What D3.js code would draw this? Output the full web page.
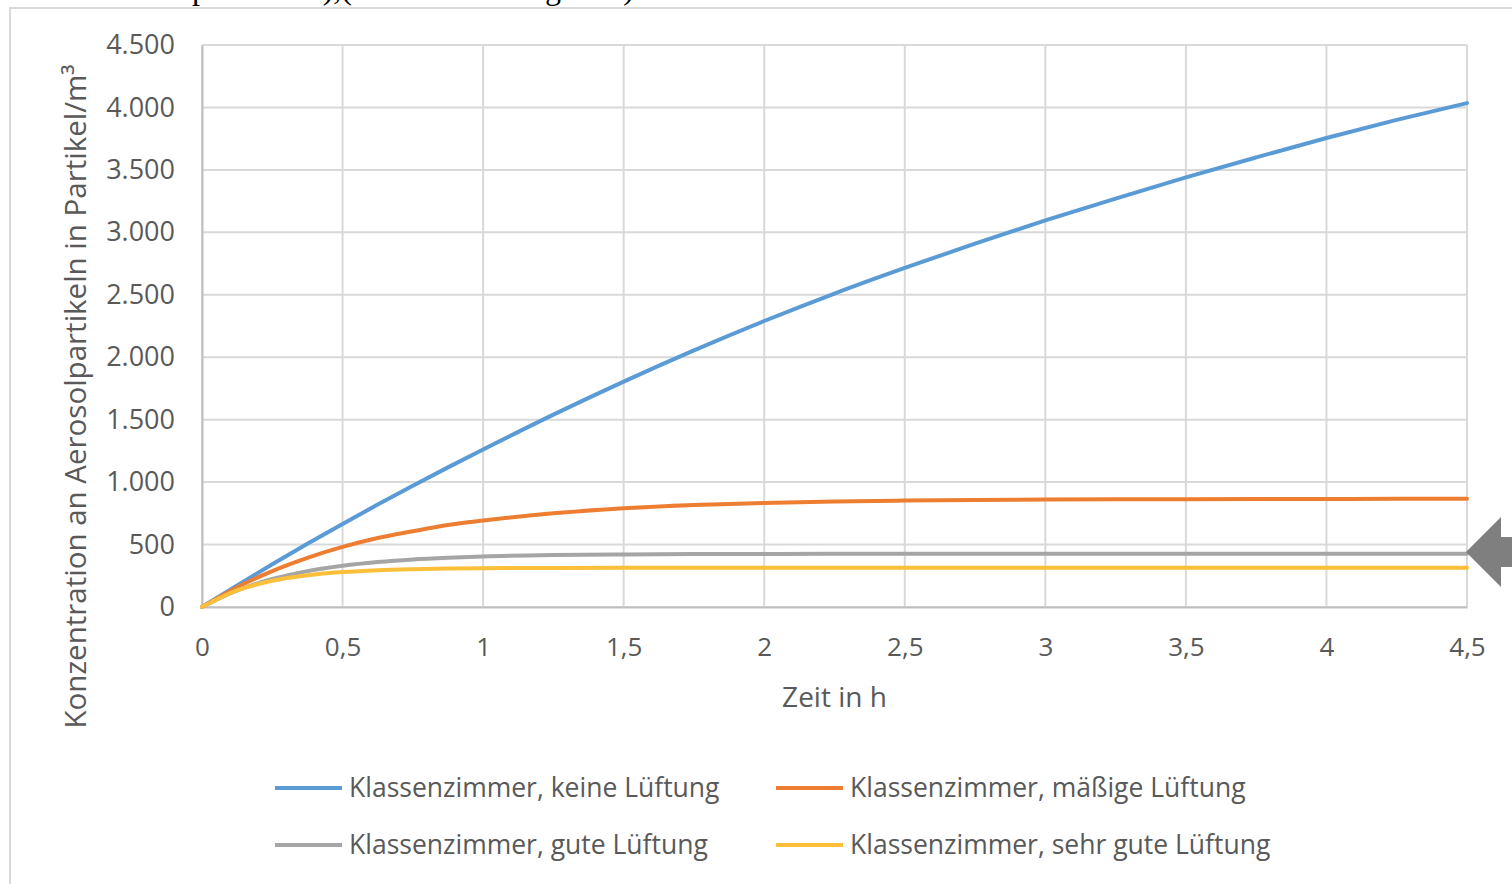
<!DOCTYPE html>
<html>
<head>
<meta charset="utf-8">
<script src="https://cdn.jsdelivr.net/npm/d3@7"></script>
<style>
  html, body { margin: 0; padding: 0; background: #fff; }
  svg { display: block; }
</style>
</head>
<body>
<svg id="chart" width="1512" height="884"></svg>
<script>
// Time in hours
const times = [0, 0.125, 0.25, 0.375, 0.5, 0.625, 0.75, 0.875, 1, 1.25, 1.5, 1.75, 2, 2.25, 2.5, 2.75, 3, 3.25, 3.5, 3.75, 4, 4.25, 4.5];

// Aerosol particle concentration (particles / m³)
const keineLueftung    = [0, 173, 342, 506, 665, 820, 971, 1118, 1261, 1540, 1805, 2055, 2290, 2510, 2715, 2910, 3095, 3270, 3440, 3600, 3755, 3900, 4035];
const maessigeLueftung = [0, 158, 288, 394, 481, 552, 606, 656, 692, 750, 790, 816, 833, 845, 852, 857, 860, 862, 863, 864, 865, 866, 866];
const guteLueftung     = [0, 132, 224, 287, 330, 360, 381, 395, 405, 416, 421, 424, 425, 426, 426, 426, 427, 427, 427, 427, 427, 427, 427];
const sehrGuteLueftung = [0, 133, 210, 254, 280, 295, 303, 308, 311, 313, 314, 315, 315, 315, 315, 315, 315, 315, 315, 315, 315, 315, 315];

const seriesNames = [
  "Klassenzimmer, keine Lüftung",
  "Klassenzimmer, mäßige Lüftung",
  "Klassenzimmer, gute Lüftung",
  "Klassenzimmer, sehr gute Lüftung"
];
const seriesColors = ["#5b9bd5", "#ed7d31", "#a5a5a5", "#fbbf3a"];

const xTicks = [0, 0.5, 1, 1.5, 2, 2.5, 3, 3.5, 4, 4.5];
const yTicks = [0, 500, 1000, 1500, 2000, 2500, 3000, 3500, 4000, 4500];

const xTitle = "Zeit in h";
const yTitle = "Konzentration an Aerosolpartikeln in Partikel/m³";

const series = [keineLueftung, maessigeLueftung, guteLueftung, sehrGuteLueftung].map((vals, i) => ({
  name: seriesNames[i],
  color: seriesColors[i],
  points: times.map((t, j) => ({ t, v: vals[j] }))
}));

const svg = d3.select("#chart");
const font = "'Open Sans', 'DejaVu Sans', sans-serif";
const textColor = "#595959";
const gridColor = "#d9d9d9";

// Caption line above the chart (only its lower edge lies inside the page)
const caption = svg.append("g")
  .attr("font-family", "'Liberation Serif', 'DejaVu Serif', serif")
  .attr("font-size", 32)
  .attr("fill", "#000");
caption.append("text").attr("x", 352).attr("y", -1).attr("text-anchor", "end").text("Lehrkraft spricht laut),(");
caption.append("text").attr("x", 354).attr("y", -1).text("Konzentration gleich)");

// Chart frame
svg.append("rect")
  .attr("x", 10).attr("y", 8)
  .attr("width", 1600).attr("height", 1000)
  .attr("fill", "#fff")
  .attr("stroke", gridColor).attr("stroke-width", 2);

const plot = { left: 202, right: 1467, top: 45, bottom: 607 };

const x = d3.scaleLinear().domain([0, 4.5]).range([plot.left, plot.right]);
const y = d3.scaleLinear().domain([0, 4500]).range([plot.bottom, plot.top]);

// Gridlines
const grid = svg.append("g").attr("stroke", gridColor).attr("stroke-width", 2);
grid.selectAll("line.v").data(xTicks).join("line")
  .attr("x1", d => x(d)).attr("x2", d => x(d))
  .attr("y1", plot.top).attr("y2", plot.bottom);
grid.selectAll("line.h").data(yTicks).join("line")
  .attr("x1", plot.left).attr("x2", plot.right)
  .attr("y1", d => y(d)).attr("y2", d => y(d));

// Axes
const xAxis = svg.append("g")
  .attr("transform", `translate(0,${plot.bottom})`)
  .call(d3.axisBottom(x).tickValues(xTicks).tickSize(0).tickPadding(31)
    .tickFormat(d => String(d).replace(".", ",")));
xAxis.select(".domain").attr("stroke", "#bfbfbf").attr("stroke-width", 2);
xAxis.selectAll("text").attr("font-family", font).attr("font-size", 26).attr("fill", textColor);

const yAxis = svg.append("g")
  .attr("transform", `translate(${plot.left},0)`)
  .call(d3.axisLeft(y).tickValues(yTicks).tickSize(0).tickPadding(27)
    .tickFormat(d => d3.format(",")(d).replace(/,/g, ".")));
yAxis.select(".domain").attr("stroke", "#bfbfbf").attr("stroke-width", 2);
yAxis.selectAll("text").attr("font-family", font).attr("font-size", 27).attr("fill", textColor);

// Axis titles
svg.append("text")
  .attr("x", (plot.left + plot.right) / 2).attr("y", 707)
  .attr("text-anchor", "middle")
  .attr("font-family", font).attr("font-size", 28).attr("fill", textColor)
  .text(xTitle);

svg.append("text")
  .attr("transform", `translate(86,${(66 + 727) / 2}) rotate(-90)`)
  .attr("text-anchor", "middle")
  .attr("font-family", font).attr("font-size", 29.5).attr("fill", textColor)
  .text(yTitle);

// Series lines
const line = d3.line().x(d => x(d.t)).y(d => y(d.v)).curve(d3.curveMonotoneX);
svg.append("g").selectAll("path").data(series).join("path")
  .attr("d", d => line(d.points))
  .attr("fill", "none")
  .attr("stroke", d => d.color)
  .attr("stroke-width", 4)
  .attr("stroke-linejoin", "round")
  .attr("stroke-linecap", "round");

// Legend (two columns, two rows)
const legend = svg.append("g");
const legendItems = legend.selectAll("g").data(series).join("g")
  .attr("transform", (d, i) => `translate(${i % 2 === 0 ? 275 : 776},${i < 2 ? 788 : 845})`);
legendItems.append("line")
  .attr("x1", 0).attr("x2", 67).attr("y1", 0).attr("y2", 0)
  .attr("stroke", d => d.color).attr("stroke-width", 4);
legendItems.append("text")
  .attr("x", 74).attr("y", 0).attr("dy", "0.35em")
  .attr("font-family", font).attr("font-size", 26.5).attr("fill", textColor)
  .text(d => d.name);

// Pointer arrow at the right edge
const arrowPts = [[1466, 552], [1501, 517], [1501, 537], [1530, 537], [1530, 567], [1501, 567], [1501, 587]];
svg.append("path")
  .attr("d", d3.line()(arrowPts) + "Z")
  .attr("fill", "#7f7f7f");
</script>
</body>
</html>
